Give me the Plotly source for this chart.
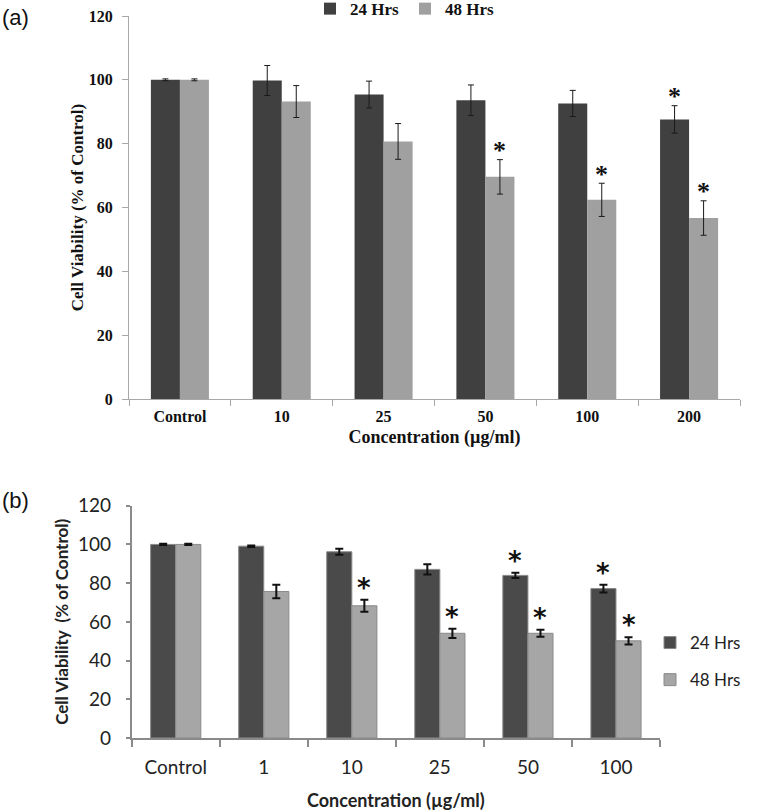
import plotly.graph_objects as go

# ---------- Panel (a) data ----------
cats_a = ["Control", "10", "25", "50", "100", "200"]
a24 = [100.0, 99.8, 95.4, 93.6, 92.6, 87.6]
a24_err = [0.3, 4.7, 4.2, 4.8, 4.1, 4.3]
a48 = [100.0, 93.2, 80.7, 69.6, 62.4, 56.7]
a48_err = [0.3, 5.0, 5.6, 5.4, 5.2, 5.4]
a24_sig = [False, False, False, False, False, True]
a48_sig = [False, False, False, True, True, True]

# ---------- Panel (b) data ----------
cats_b = ["Control", "1", "10", "25", "50", "100"]
b24 = [100.0, 99.1, 96.2, 87.1, 84.0, 77.2]
b24_err = [0.3, 0.4, 1.6, 2.7, 1.4, 2.0]
b48 = [100.0, 75.7, 68.3, 54.1, 54.1, 50.2]
b48_err = [0.3, 3.5, 3.1, 2.4, 1.8, 1.9]
b24_sig = [False, False, False, False, True, True]
b48_sig = [False, False, True, True, True, True]

series_names = ["24 Hrs", "48 Hrs"]
y_ticks = [0, 20, 40, 60, 80, 100, 120]

DARK_A, LIGHT_A = "#404040", "#a0a0a0"
DARK_B, LIGHT_B = "#4a4a4a", "#a6a6a6"
SERIF = "Liberation Serif, Times New Roman, serif"
SANS = "Lato, Open Sans, sans-serif"

W, H = 768, 811
BARGAP = 0.43

# plot-area extents (pixels)
A_X0, A_X1, A_Y0, A_Y1 = 129, 740, 399, 16
B_X0, B_X1, B_Y0, B_Y1 = 131.7, 660, 738, 505.7


def px_x(p):
    return p / W


def px_y(p):
    return 1 - p / H


fig = go.Figure()

# Panel (a) bars
for name, vals, errs, col, grp in [
    (series_names[0], a24, a24_err, DARK_A, "g24"),
    (series_names[1], a48, a48_err, LIGHT_A, "g48"),
]:
    fig.add_trace(go.Bar(
        x=cats_a, y=vals, name=name, marker=dict(color=col, line=dict(width=0)),
        offsetgroup=grp, xaxis="x", yaxis="y", legend="legend",
        error_y=dict(type="data", array=errs, visible=True, color="#1a1a1a",
                     thickness=1, width=3),
    ))

# Panel (b) bars
for name, vals, errs, col, grp in [
    (series_names[0], b24, b24_err, DARK_B, "g24"),
    (series_names[1], b48, b48_err, LIGHT_B, "g48"),
]:
    fig.add_trace(go.Bar(
        x=cats_b, y=vals, name=name, legendgroup="b_" + name,
        marker=dict(color=col, line=dict(width=1, color="#8a8a8a")),
        offsetgroup=grp, xaxis="x2", yaxis="y2", legend="legend2",
        error_y=dict(type="data", array=errs, visible=True, color="#111111",
                     thickness=2, width=4),
    ))

# Significance asterisks above the error bars
annotations = []
half_a = (A_X1 - A_X0) / len(cats_a) * (1 - BARGAP) / 4
half_b = (B_X1 - B_X0) / len(cats_b) * (1 - BARGAP) / 4
for cats, vals, errs, sig, side, ax, ay, fnt, half, ysh in [
    (cats_a, a24, a24_err, a24_sig, -1, "x", "y", SERIF, half_a, 9),
    (cats_a, a48, a48_err, a48_sig, 1, "x", "y", SERIF, half_a, 9),
    (cats_b, b24, b24_err, b24_sig, -1, "x2", "y2", "DejaVu Sans", half_b, 12),
    (cats_b, b48, b48_err, b48_sig, 1, "x2", "y2", "DejaVu Sans", half_b, 12),
]:
    for i, (v, e, s) in enumerate(zip(vals, errs, sig)):
        if s:
            annotations.append(dict(
                text="<b>*</b>", x=i, y=v + e, xref=ax, yref=ay,
                xanchor="center", yanchor="middle", showarrow=False,
                xshift=side * half, yshift=ysh,
                font=dict(family=fnt, size=26, color="#111111"),
            ))

annotations += [
    dict(text="(a)", x=0, y=px_y(17), xref="paper", yref="paper",
         xanchor="left", yanchor="middle", showarrow=False,
         font=dict(family="Liberation Sans, Arial", size=22, color="#111111")),
    dict(text="(b)", x=0, y=px_y(500), xref="paper", yref="paper",
         xanchor="left", yanchor="middle", showarrow=False,
         font=dict(family="Liberation Sans, Arial", size=22, color="#111111")),
]

axis_common = dict(showgrid=False, zeroline=False, showline=True)

fig.update_layout(
    width=W, height=H,
    margin=dict(l=0, r=0, t=0, b=0, autoexpand=False),
    paper_bgcolor="white", plot_bgcolor="white",
    barmode="group", bargap=BARGAP, bargroupgap=0.0,
    xaxis=dict(
        type="category", categoryorder="array", categoryarray=cats_a,
        domain=[px_x(A_X0), px_x(A_X1)], anchor="y", **axis_common,
        linecolor="#a8a8a8", linewidth=1, tickangle=0,
        ticks="outside", tickson="boundaries", ticklen=6, tickcolor="#a8a8a8",
        ticklabelstandoff=3,
        tickfont=dict(family=SERIF, size=16, color="#111111", weight="bold"),
        title=dict(text="Concentration (µg/ml)", standoff=6,
                   font=dict(family=SERIF, size=18, color="#111111", weight="bold")),
    ),
    yaxis=dict(
        domain=[px_y(A_Y0), px_y(A_Y1)], anchor="x", range=[0, 120], **axis_common,
        tickvals=y_ticks, linecolor="#a8a8a8", linewidth=1,
        ticks="outside", ticklen=6, tickcolor="#a8a8a8", ticklabelstandoff=6,
        tickfont=dict(family=SERIF, size=16, color="#111111", weight="bold"),
        title=dict(text="Cell Viability (% of Control)", standoff=0,
                   font=dict(family=SERIF, size=17, color="#111111", weight="bold")),
    ),
    xaxis2=dict(
        type="category", categoryorder="array", categoryarray=cats_b,
        domain=[px_x(B_X0), px_x(B_X1)], anchor="y2", **axis_common,
        linecolor="#8a8a8a", linewidth=1.5, tickangle=0,
        ticks="outside", tickson="boundaries", ticklen=7, tickcolor="#8a8a8a",
        tickwidth=1.5, ticklabelstandoff=11,
        tickfont=dict(family=SANS, size=19, color="#222222"),
        title=dict(text="Concentration (µg/ml)", standoff=18,
                   font=dict(family=SANS, size=18, color="#222222", weight="bold")),
    ),
    yaxis2=dict(
        domain=[px_y(B_Y0), px_y(B_Y1)], anchor="x2", range=[0, 120], **axis_common,
        tickvals=y_ticks, linecolor="#8a8a8a", linewidth=1.5,
        ticks="outside", ticklen=4, tickcolor="#8a8a8a", tickwidth=1.5,
        ticklabelstandoff=11,
        tickfont=dict(family=SANS, size=19, color="#222222"),
        title=dict(text="Cell Viability  (% of Control)", standoff=5,
                   font=dict(family=SANS, size=17, color="#222222", weight="bold")),
    ),
    legend=dict(
        orientation="h", x=px_x(405), xanchor="center", y=1.011, yanchor="top",
        font=dict(family=SERIF, size=17, color="#111111", weight="bold"),
        entrywidth=50, entrywidthmode="pixels",
        bgcolor="rgba(0,0,0,0)", itemclick=False, itemdoubleclick=False,
    ),
    legend2=dict(
        orientation="v", x=px_x(650), xanchor="left", y=px_y(625), yanchor="top",
        font=dict(family=SANS, size=17, color="#222222"),
        bgcolor="rgba(0,0,0,0)", tracegroupgap=12,
        itemclick=False, itemdoubleclick=False,
    ),
    annotations=annotations,
)

fig.write_html("out.html", config={"displayModeBar": False},
               post_script="document.body.style.margin='0';")
